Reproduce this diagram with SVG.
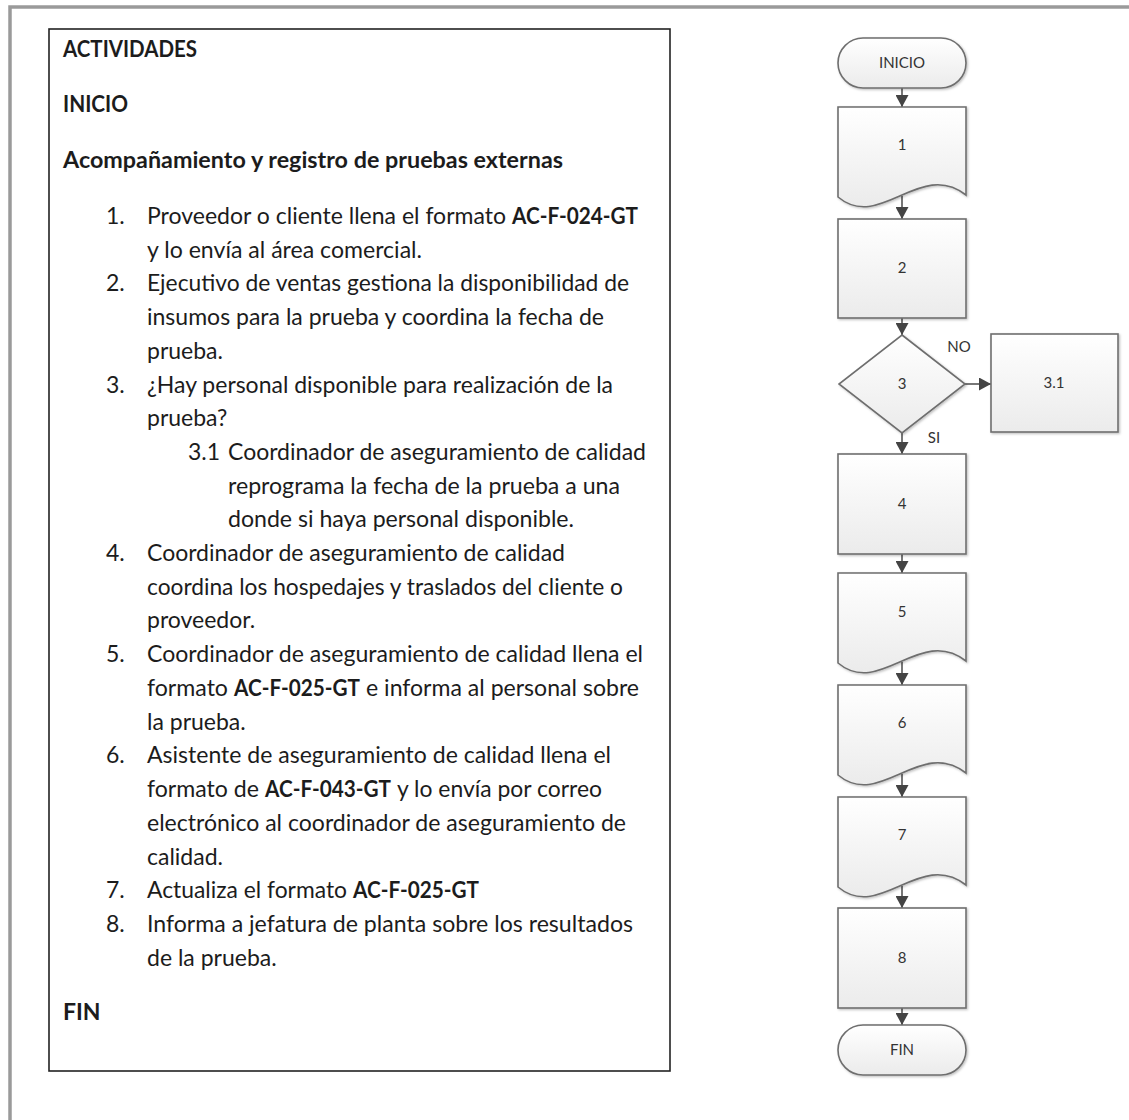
<svg xmlns="http://www.w3.org/2000/svg" width="1129" height="1120" viewBox="0 0 1129 1120">
<style>
.t{font-family:Lato,"Liberation Sans",sans-serif;font-size:23px;fill:#1c1c1c}
.b{font-weight:bold}
.lbl{font-family:Lato,"Liberation Sans",sans-serif;font-size:15px;fill:#333;text-anchor:middle}
.sh{fill:url(#gf);stroke:#6e6e6e;stroke-width:1.6;filter:url(#ds)}
.cn{stroke:#4a4a4a;stroke-width:1.5;fill:none;marker-end:url(#ah)}
</style>
<defs>
<linearGradient id="gf" x1="0" y1="0" x2="0" y2="1"><stop offset="0" stop-color="#ffffff"/><stop offset="1" stop-color="#ebebeb"/></linearGradient>
<filter id="ds" x="-10%" y="-10%" width="130%" height="130%"><feDropShadow dx="1.2" dy="1.2" stdDeviation="0.8" flood-color="#000" flood-opacity="0.25"/></filter>
<marker id="ah" markerUnits="userSpaceOnUse" markerWidth="13" markerHeight="13" refX="12" refY="6.5" orient="auto"><path d="M0,0 L12,6.5 L0,13 Z" fill="#444"/></marker>
</defs>
<rect width="1129" height="1120" fill="#fff"/>
<g id="frame">
<path d="M10,1120 V7 H1129" fill="none" stroke="#9a9a9a" stroke-width="3.5"/>
</g>
<g id="activities">
<rect x="49" y="29" width="621" height="1042" fill="#fff" stroke="#222" stroke-width="1.6"/>
<text class="t b" x="63" y="57" textLength="134" lengthAdjust="spacingAndGlyphs">ACTIVIDADES</text>
<text class="t b" x="63" y="112" textLength="65" lengthAdjust="spacingAndGlyphs">INICIO</text>
<text class="t b" x="63" y="168" textLength="500" lengthAdjust="spacingAndGlyphs">Acompañamiento y registro de pruebas externas</text>
<text class="t" x="106" y="224">1.</text>
<text class="t" x="147" y="224" textLength="359" lengthAdjust="spacingAndGlyphs">Proveedor o cliente llena el formato</text>
<text class="t b" x="512" y="224" textLength="126" lengthAdjust="spacingAndGlyphs">AC-F-024-GT</text>
<text class="t" x="147" y="258" textLength="275" lengthAdjust="spacingAndGlyphs">y lo envía al área comercial.</text>
<text class="t" x="106" y="291">2.</text>
<text class="t" x="147" y="291" textLength="482" lengthAdjust="spacingAndGlyphs">Ejecutivo de ventas gestiona la disponibilidad de</text>
<text class="t" x="147" y="325" textLength="457" lengthAdjust="spacingAndGlyphs">insumos para la prueba y coordina la fecha de</text>
<text class="t" x="147" y="359">prueba.</text>
<text class="t" x="106" y="393">3.</text>
<text class="t" x="147" y="393" textLength="466" lengthAdjust="spacingAndGlyphs">¿Hay personal disponible para realización de la</text>
<text class="t" x="147" y="426">prueba?</text>
<text class="t" x="188" y="460">3.1</text>
<text class="t" x="228" y="460" textLength="418" lengthAdjust="spacingAndGlyphs">Coordinador de aseguramiento de calidad</text>
<text class="t" x="228" y="494" textLength="392" lengthAdjust="spacingAndGlyphs">reprograma la fecha de la prueba a una</text>
<text class="t" x="228" y="527" textLength="346" lengthAdjust="spacingAndGlyphs">donde si haya personal disponible.</text>
<text class="t" x="106" y="561">4.</text>
<text class="t" x="147" y="561" textLength="418" lengthAdjust="spacingAndGlyphs">Coordinador de aseguramiento de calidad</text>
<text class="t" x="147" y="595" textLength="476" lengthAdjust="spacingAndGlyphs">coordina los hospedajes y traslados del cliente o</text>
<text class="t" x="147" y="628">proveedor.</text>
<text class="t" x="106" y="662">5.</text>
<text class="t" x="147" y="662" textLength="496" lengthAdjust="spacingAndGlyphs">Coordinador de aseguramiento de calidad llena el</text>
<text class="t" x="147" y="696" textLength="81" lengthAdjust="spacingAndGlyphs">formato</text>
<text class="t b" x="234" y="696" textLength="126" lengthAdjust="spacingAndGlyphs">AC-F-025-GT</text>
<text class="t" x="366" y="696" textLength="273" lengthAdjust="spacingAndGlyphs">e informa al personal sobre</text>
<text class="t" x="147" y="730">la prueba.</text>
<text class="t" x="106" y="763">6.</text>
<text class="t" x="147" y="763" textLength="464" lengthAdjust="spacingAndGlyphs">Asistente de aseguramiento de calidad llena el</text>
<text class="t" x="147" y="797" textLength="112" lengthAdjust="spacingAndGlyphs">formato de</text>
<text class="t b" x="265" y="797" textLength="126" lengthAdjust="spacingAndGlyphs">AC-F-043-GT</text>
<text class="t" x="397" y="797" textLength="205" lengthAdjust="spacingAndGlyphs">y lo envía por correo</text>
<text class="t" x="147" y="831" textLength="479" lengthAdjust="spacingAndGlyphs">electrónico al coordinador de aseguramiento de</text>
<text class="t" x="147" y="865">calidad.</text>
<text class="t" x="106" y="898">7.</text>
<text class="t" x="147" y="898" textLength="200" lengthAdjust="spacingAndGlyphs">Actualiza el formato</text>
<text class="t b" x="353" y="898" textLength="126" lengthAdjust="spacingAndGlyphs">AC-F-025-GT</text>
<text class="t" x="106" y="932">8.</text>
<text class="t" x="147" y="932" textLength="486" lengthAdjust="spacingAndGlyphs">Informa a jefatura de planta sobre los resultados</text>
<text class="t" x="147" y="966">de la prueba.</text>
<text class="t b" x="63" y="1020">FIN</text>
</g>
<g id="connectors">
<line class="cn" x1="902" y1="88" x2="902" y2="107"/>
<line class="cn" x1="902" y1="196" x2="902" y2="219"/>
<line class="cn" x1="902" y1="318" x2="902" y2="335"/>
<line class="cn" x1="965" y1="384" x2="991" y2="384"/>
<line class="cn" x1="902" y1="433" x2="902" y2="454"/>
<line class="cn" x1="902" y1="554" x2="902" y2="573"/>
<line class="cn" x1="902" y1="662" x2="902" y2="685"/>
<line class="cn" x1="902" y1="774" x2="902" y2="797"/>
<line class="cn" x1="902" y1="886" x2="902" y2="908"/>
<line class="cn" x1="902" y1="1008" x2="902" y2="1025"/>
<text class="lbl" x="959" y="352">NO</text>
<text class="lbl" x="934" y="443">SI</text>
</g>
<g id="n-inicio">
<rect class="sh" x="838" y="38" width="128" height="50" rx="25"/>
<text class="lbl" x="902" y="68">INICIO</text>
</g>
<g id="n-1">
<path class="sh" d="M838,107 H966 V195 C920,159 880,232 838,197 Z"/>
<text class="lbl" x="902" y="150">1</text>
</g>
<g id="n-2">
<rect class="sh" x="838" y="219" width="128" height="99"/>
<text class="lbl" x="902" y="273">2</text>
</g>
<g id="n-3">
<path class="sh" d="M902,335 L965,384 L902,433 L839,384 Z"/>
<text class="lbl" x="902" y="389">3</text>
</g>
<g id="n-3-1">
<rect class="sh" x="991" y="334" width="127" height="98"/>
<text class="lbl" x="1054" y="388">3.1</text>
</g>
<g id="n-4">
<rect class="sh" x="838" y="454" width="128" height="100"/>
<text class="lbl" x="902" y="509">4</text>
</g>
<g id="n-5">
<path class="sh" d="M838,573 H966 V661 C920,625 880,698 838,663 Z"/>
<text class="lbl" x="902" y="617">5</text>
</g>
<g id="n-6">
<path class="sh" d="M838,685 H966 V773 C920,737 880,810 838,775 Z"/>
<text class="lbl" x="902" y="728">6</text>
</g>
<g id="n-7">
<path class="sh" d="M838,797 H966 V885 C920,849 880,922 838,887 Z"/>
<text class="lbl" x="902" y="840">7</text>
</g>
<g id="n-8">
<rect class="sh" x="838" y="908" width="128" height="100"/>
<text class="lbl" x="902" y="963">8</text>
</g>
<g id="n-fin">
<rect class="sh" x="838" y="1025" width="128" height="50" rx="25"/>
<text class="lbl" x="902" y="1055">FIN</text>
</g>
</svg>
